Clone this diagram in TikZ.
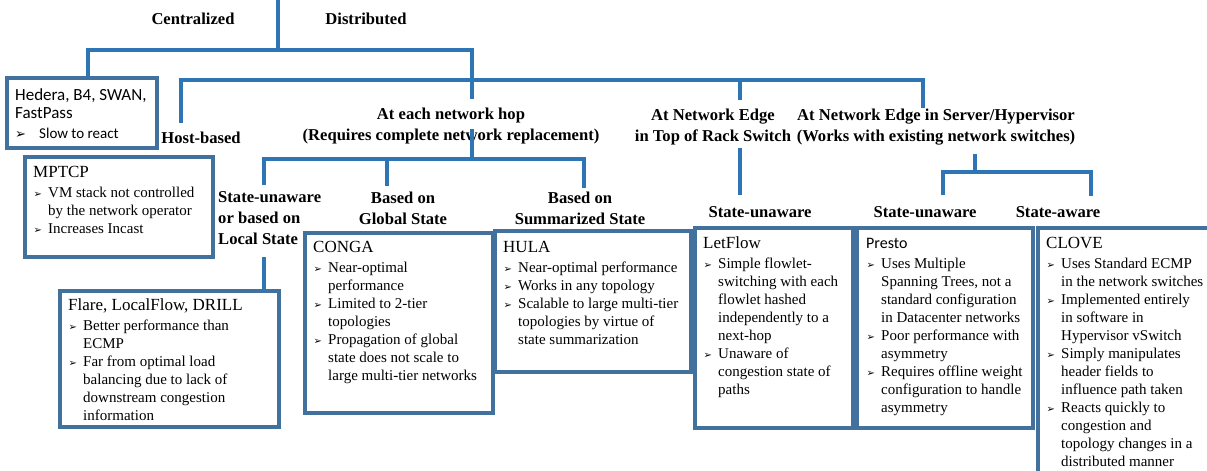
\documentclass[tikz,border=0pt]{standalone}
\usepackage{fontspec}
\setmainfont{Liberation Serif}
\newfontfamily\calfont{Carlito}
\newfontfamily\dvs{DejaVu Sans}
\definecolor{boxc}{RGB}{65,113,156}
\definecolor{connc}{RGB}{46,117,182}
\newcommand\arw{{\dvs\fontsize{10}{10}\selectfont ➢}}
\newcommand\A{\makebox[15pt][l]{\hspace{0.5pt}\arw}}
\newcommand\B{\hspace*{15pt}}
\newcommand\ttl[1]{{\fontsize{17}{18}\selectfont #1}}
\tikzset{
  conn/.style={draw=connc, line width=3.2pt},
  box/.style={draw=boxc, line width=3.2pt, anchor=north west, inner sep=0pt, outer sep=0pt},
  lbl/.style={font=\bfseries\fontsize{16.6}{21}\selectfont, inner sep=0pt, align=center},
  lbltwo/.style={font=\bfseries\fontsize{16.6}{21.5}\selectfont, inner sep=0pt, align=center},
  btxt/.style={anchor=base west, inner sep=0pt, font=\rmfamily\fontsize{15}{18}\selectfont},
}
\begin{document}
\begin{tikzpicture}[x=1pt,y=-1pt]
\useasboundingbox (0,0) rectangle (1207,471);
\clip (0,0) rectangle (1207,471);

% ---- labels
\node[lbl] (cent) at (193,19) {Centralized};
\node[lbl] (dist) at (366,19) {Distributed};
\node[lbl] (host) at (201,138) {Host-based};
\node[lbltwo] (hop) at (451,126) {At each network hop\\(Requires complete network replacement)};
\node[lbltwo] (tor) at (713,127) {At Network Edge\\in Top of Rack Switch};
\node[lbltwo] (srv) at (936,127) {At Network Edge in Server/Hypervisor\\(Works with existing network switches)};
\node[lbl, align=left, anchor=west] (local) at (218,218) {State-unaware\\or based on\\Local State};
\node[lbl] (glob) at (403,208) {Based on\\Global State};
\node[lbl] (summ) at (580,208) {Based on\\Summarized State};
\node[lbl] (su1) at (760,212) {State-unaware};
\node[lbl] (su2) at (925,212) {State-unaware};
\node[lbl] (sa) at (1058,212) {State-aware};

% ---- boxes
\node[box, minimum width=150pt, minimum height=70pt] (hedera) at (7,78) {};
\node[box, minimum width=188pt, minimum height=100pt] (mptcp) at (25,157) {};
\node[box, minimum width=219pt, minimum height=136pt] (flare) at (60,291) {};
\node[box, minimum width=188pt, minimum height=180pt] (conga) at (305,233) {};
\node[box, minimum width=196pt, minimum height=141pt] (hula) at (495,231) {};
\node[box, minimum width=158pt, minimum height=200pt] (letflow) at (695,228) {};
\node[box, minimum width=176pt, minimum height=200pt] (presto) at (857,228) {};
\node[box, minimum width=200pt, minimum height=270pt] (clove) at (1038,228) {};

% ---- box texts
\node[btxt] (hederaT) at (15,100.5) {\calfont\begin{tabular}[t]{@{}l@{}}
\ttl{Hedera, B4, SWAN,}\\
\ttl{FastPass}\\[1.5pt]
\makebox[24pt][l]{\dvs\fontsize{13}{13}\selectfont ➢}Slow to react
\end{tabular}};

\node[btxt] (mptcpT) at (33,177.6) {\begin{tabular}[t]{@{}l@{}}
\ttl{MPTCP}\\[1.5pt]
\A VM stack not controlled\\
\B by the network operator\\
\A Increases Incast
\end{tabular}};

\node[btxt] (flareT) at (68,310.6) {\begin{tabular}[t]{@{}l@{}}
\ttl{Flare, LocalFlow, DRILL}\\[1.5pt]
\A Better performance than\\
\B ECMP\\
\A Far from optimal load\\
\B balancing due to lack of\\
\B downstream congestion\\
\B information
\end{tabular}};

\node[btxt] (congaT) at (313,252.6) {\begin{tabular}[t]{@{}l@{}}
\ttl{CONGA}\\[1.5pt]
\A Near-optimal\\
\B performance\\
\A Limited to 2-tier\\
\B topologies\\
\A Propagation of global\\
\B state does not scale to\\
\B large multi-tier networks
\end{tabular}};

\node[btxt] (hulaT) at (503,252.6) {\begin{tabular}[t]{@{}l@{}}
\ttl{HULA}\\[1.5pt]
\A Near-optimal performance\\
\A Works in any topology\\
\A Scalable to large multi-tier\\
\B topologies by virtue of\\
\B state summarization
\end{tabular}};

\node[btxt] (letflowT) at (703,248.6) {\begin{tabular}[t]{@{}l@{}}
\ttl{LetFlow}\\[1.5pt]
\A Simple flowlet-\\
\B switching with each\\
\B flowlet hashed\\
\B independently to a\\
\B next-hop\\
\A Unaware of\\
\B congestion state of\\
\B paths
\end{tabular}};

\node[btxt] (prestoT) at (866,248.6) {\begin{tabular}[t]{@{}l@{}}
{\calfont\fontsize{16}{18}\selectfont Presto}\\[1.5pt]
\A Uses Multiple\\
\B Spanning Trees, not a\\
\B standard configuration\\
\B in Datacenter networks\\
\A Poor performance with\\
\B asymmetry\\
\A Requires offline weight\\
\B configuration to handle\\
\B asymmetry
\end{tabular}};

\node[btxt] (cloveT) at (1046,248.6) {\begin{tabular}[t]{@{}l@{}}
\ttl{CLOVE}\\[1.5pt]
\A Uses Standard ECMP\\
\B in the network switches\\
\A Implemented entirely\\
\B in software in\\
\B Hypervisor vSwitch\\
\A Simply manipulates\\
\B header fields to\\
\B influence path taken\\
\A Reacts quickly to\\
\B congestion and\\
\B topology changes in a\\
\B distributed manner
\end{tabular}};

% ---- connector coordinates
\coordinate (root) at (278,0);
\coordinate (j1) at (278,50);
\coordinate (hopA) at (472,99);
\coordinate (hostA) at (181,123);
\coordinate (jd) at (472,80);
\coordinate (srvA) at (923,108);
\coordinate (jt) at (740,80);
\coordinate (torA) at (740,100);
\coordinate (hopB) at (472,129);
\coordinate (jh) at (472,159);
\coordinate (locA) at (264,185);
\coordinate (globA) at (387,186);
\coordinate (summA) at (584,188);
\coordinate (torB) at (740,148);
\coordinate (su1A) at (740,195);
\coordinate (srvB) at (975,154);
\coordinate (js) at (975,172);
\coordinate (su2A) at (943,195);
\coordinate (saA) at (1091,196);
\coordinate (locB) at (264,257);

% ---- connectors
\draw[conn] (root) -- (j1);
\draw[conn] ([xshift=6pt]hedera.north) |- (j1) -| (hopA);
\draw[conn] (hostA) |- (jd) -| (srvA);
\draw[conn] (jt) -- (torA);
\draw[conn] (hopB) -- (jh);
\draw[conn] (locA) |- (jh) -| (summA);
\draw[conn] (globA) -- (globA |- jh);
\draw[conn] (torB) -- (su1A);
\draw[conn] (srvB) -- (js);
\draw[conn] (su2A) |- (js) -| (saA);
\draw[conn] (locB) -- (locB |- flare.north);
\end{tikzpicture}
\end{document}
